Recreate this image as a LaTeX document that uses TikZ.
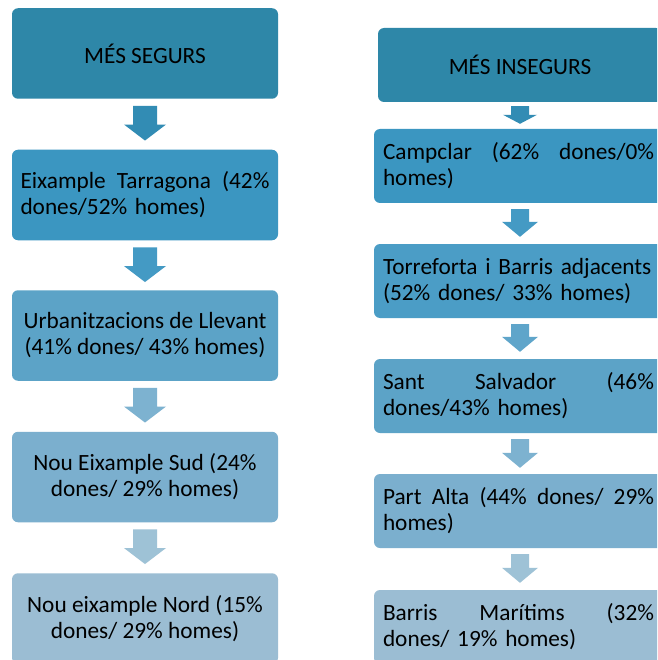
\documentclass[tikz,border=0pt]{standalone}
\usepackage{fontspec}
\setmainfont{Carlito}
\usetikzlibrary{calc}
\definecolor{cHead}{RGB}{46,135,168}
\definecolor{cA}{RGB}{59,150,193}
\definecolor{cB}{RGB}{75,157,198}
\definecolor{cC}{RGB}{92,163,199}
\definecolor{cD}{RGB}{123,175,206}
\definecolor{cE}{RGB}{155,189,211}
\definecolor{aA}{RGB}{50,140,180}
\definecolor{aB}{RGB}{68,154,196}
\definecolor{aC}{RGB}{95,165,202}
\definecolor{aD}{RGB}{125,178,208}
\definecolor{aE}{RGB}{158,194,214}
\tikzset{
  box/.style={rounded corners=6pt, inner sep=0pt, text=black,
    font=\fontsize{23.3}{26}\selectfont},
  lbox/.style={box, minimum width=266pt, minimum height=90.5pt},
  rbox/.style={box, minimum width=292pt, minimum height=74pt, text width=274pt, align=left},
}
\newcommand\jline[2]{\makebox[#1][l]{#2}}
\newcommand\barrow[8]{%
  \coordinate (#1top) at ($(#1.south)+(0,#4)$);
  \coordinate (#1bot) at ($(#2.north)+(0,-#5)$);
  \fill[#3] ($(#1top)+(-#6,0)$) -- ($(#1top)+(#6,0)$) -- ($(#1bot)+(#6,-#8)$)
    -- ($(#1bot)+(#7,-#8)$) -- (#1bot) -- ($(#1bot)+(-#7,-#8)$)
    -- ($(#1bot)+(-#6,-#8)$) -- cycle;}
\begin{document}
\begin{tikzpicture}[x=1pt,y=-1pt]
\clip (0,0) rectangle (657,660);
\fill[white] (0,0) rectangle (657,660);
% left column
\node[lbox, fill=cHead] (L1) at (145,53.5) {MÉS SEGURS};
\node[lbox, fill=cA, text width=249pt, align=left] (L2) at (145,195)
  {\jline{249pt}{Eixample\hfill Tarragona\hfill (42\%}\\dones/52\% homes)};
\node[lbox, fill=cC, align=center] (L3) at (145,335.5)
  {Urbanitzacions de Llevant\\(41\% dones/ 43\% homes)};
\node[lbox, fill=cD, align=center] (L4) at (145,477)
  {Nou Eixample Sud (24\%\\dones/ 29\% homes)};
\node[lbox, fill=cE, align=center] (L5) at (145,618.5)
  {Nou eixample Nord (15\%\\dones/ 29\% homes)};
\barrow{L1}{L2}{aA}{7}{9}{12}{21}{16}
\barrow{L2}{L3}{aB}{7}{8}{12}{21}{16}
\barrow{L3}{L4}{aD}{7}{9}{12}{21}{16}
\barrow{L4}{L5}{aE}{7}{9}{12}{21}{16}
% right column
\node[box, fill=cHead, minimum width=284pt, minimum height=74pt] (R1) at (520,65) {MÉS INSEGURS};
\node[rbox, fill=cA] (R2) at (520,166)
  {\jline{271pt}{Campclar\hfill (62\%\hfill dones/0\%}\\homes)};
\node[rbox, fill=cB] (R3) at (520,281)
  {Torreforta i Barris adjacents\\(52\% dones/ 33\% homes)};
\node[rbox, fill=cC] (R4) at (520,396)
  {\jline{271pt}{Sant\hfill Salvador\hfill (46\%}\\dones/43\% homes)};
\node[rbox, fill=cD] (R5) at (520,511)
  {\jline{271pt}{Part\hfill Alta\hfill (44\%\hfill dones/\hfill 29\%}\\homes)};
\node[rbox, fill=cE] (R6) at (520,627)
  {\jline{271pt}{Barris\hfill Marítims\hfill (32\%}\\dones/ 19\% homes)};
\barrow{R1}{R2}{aA}{4}{5}{9}{17}{9}
\barrow{R2}{R3}{aB}{6}{7}{9}{18}{15}
\barrow{R3}{R4}{aC}{6}{7}{9}{18}{15}
\barrow{R4}{R5}{aD}{6}{6}{9}{18}{15}
\barrow{R5}{R6}{aE}{6}{7}{9}{18}{15}
\end{tikzpicture}
\end{document}
